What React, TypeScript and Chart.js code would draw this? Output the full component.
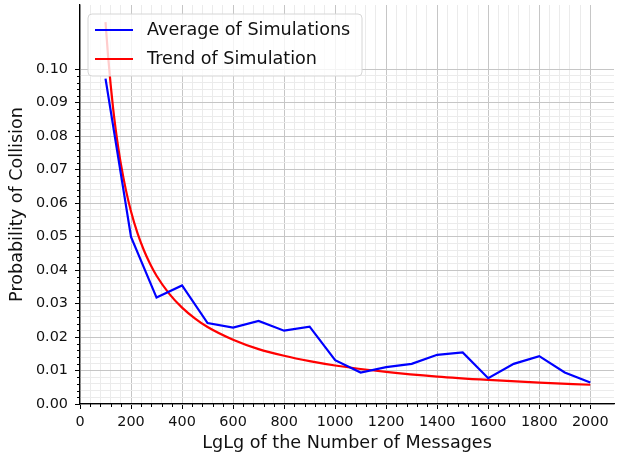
import React, { useEffect, useRef } from "react";
import { Chart, registerables } from "chart.js";

Chart.register(...registerables);

const simX = [100, 200, 300, 400, 500, 600, 700, 800, 900, 1000, 1100, 1200, 1300, 1400, 1500, 1600, 1700, 1800, 1900, 2000];
const simY = [0.0972, 0.0499, 0.0318, 0.0354, 0.0242, 0.0228, 0.0248, 0.0219, 0.0231, 0.0131, 0.0094, 0.011, 0.012, 0.0147, 0.0154, 0.0077, 0.012, 0.0143, 0.0094, 0.0064];

const trendX = [100, 110, 120, 130, 140, 150, 160, 180, 200, 225, 250, 275, 300, 350, 400, 450, 500, 600, 700, 800, 900, 1000, 1200, 1400, 1600, 1800, 2000];
const trendY = [0.1141, 0.1040, 0.0955, 0.0882, 0.0820, 0.0766, 0.0718, 0.0639, 0.0575, 0.0511, 0.046, 0.0418, 0.0383, 0.0329, 0.0288, 0.0256, 0.023, 0.0192, 0.0164, 0.0144, 0.0128, 0.0115, 0.0096, 0.0082, 0.0072, 0.0064, 0.00575];

const xMajorStep = 200;
const xMinorStep = 40;
const xTickMax = 2000;
const yMinorStep = 0.002;
const yMinorPerMajor = 5;
const yTickCount = 50; // 0 .. 0.10

const seriesLabels = ["Average of Simulations", "Trend of Simulation"];
const seriesColors = ["#0000ff", "#ff0000"];
const xTitle = "LgLg of the Number of Messages";
const yTitle = "Probability of Collision";

const FONT = "'DejaVu Sans', sans-serif";
const TICK_SIZE = 14.4;
const LABEL_SIZE = 17.6;

export default function App() {
  const ref = useRef<HTMLCanvasElement | null>(null);

  useEffect(() => {
    if (!ref.current) return;

    const customDraw = {
      id: "customDraw",
      afterDatasetsDraw(chart: any) {
        const ctx = chart.ctx;
        const xs = chart.scales.x;
        const ys = chart.scales.y;
        const area = chart.chartArea;
        ctx.save();
        // minor tick marks
        ctx.strokeStyle = "#000";
        ctx.lineWidth = 1;
        for (let i = 0; i * xMinorStep <= xTickMax; i++) {
          const v = i * xMinorStep;
          if (v % xMajorStep === 0) continue;
          const px = Math.round(xs.getPixelForValue(v)) + 0.5;
          ctx.beginPath();
          ctx.moveTo(px, area.bottom);
          ctx.lineTo(px, area.bottom + 3);
          ctx.stroke();
        }
        for (let i = 0; i <= yTickCount; i++) {
          if (i % yMinorPerMajor === 0) continue;
          const py = Math.round(ys.getPixelForValue(i * yMinorStep)) + 0.5;
          ctx.beginPath();
          ctx.moveTo(area.left, py);
          ctx.lineTo(area.left - 3, py);
          ctx.stroke();
        }
        // axis titles
        ctx.fillStyle = "#111";
        ctx.font = `${LABEL_SIZE}px ${FONT}`;
        ctx.textAlign = "center";
        ctx.textBaseline = "middle";
        ctx.fillText(xTitle, (area.left + area.right) / 2, 443);
        ctx.save();
        ctx.translate(17, (area.top + area.bottom) / 2);
        ctx.rotate(-Math.PI / 2);
        ctx.fillText(yTitle, 0, 0);
        ctx.restore();

        // legend
        const lx = 88, ly = 14, lw = 274, lh = 62, r = 4;
        ctx.beginPath();
        ctx.moveTo(lx + r, ly);
        ctx.lineTo(lx + lw - r, ly);
        ctx.quadraticCurveTo(lx + lw, ly, lx + lw, ly + r);
        ctx.lineTo(lx + lw, ly + lh - r);
        ctx.quadraticCurveTo(lx + lw, ly + lh, lx + lw - r, ly + lh);
        ctx.lineTo(lx + r, ly + lh);
        ctx.quadraticCurveTo(lx, ly + lh, lx, ly + lh - r);
        ctx.lineTo(lx, ly + r);
        ctx.quadraticCurveTo(lx, ly, lx + r, ly);
        ctx.closePath();
        ctx.fillStyle = "rgba(255,255,255,0.8)";
        ctx.fill();
        ctx.strokeStyle = "#d6d6d6";
        ctx.lineWidth = 1;
        ctx.stroke();
        ctx.textAlign = "left";
        ctx.font = `${LABEL_SIZE}px ${FONT}`;
        seriesLabels.forEach((lab, i) => {
          const yy = 30 + i * 29;
          ctx.strokeStyle = seriesColors[i];
          ctx.lineWidth = 2;
          ctx.beginPath();
          ctx.moveTo(95, yy);
          ctx.lineTo(133, yy);
          ctx.stroke();
          ctx.fillStyle = "#111";
          ctx.fillText(lab, 147, yy);
        });
        ctx.restore();
      },
    };

    const chart = new Chart(ref.current, {
      type: "line",
      data: {
        datasets: [
          {
            label: seriesLabels[0],
            data: simX.map((x, i) => ({ x, y: simY[i] })),
            borderColor: seriesColors[0],
            borderWidth: 2.2,
            pointRadius: 0,
            tension: 0,
            fill: false,
          },
          {
            label: seriesLabels[1],
            data: trendX.map((x, i) => ({ x, y: trendY[i] })),
            borderColor: seriesColors[1],
            borderWidth: 2.2,
            pointRadius: 0,
            cubicInterpolationMode: "monotone",
            fill: false,
          },
        ],
      },
      options: {
        responsive: false,
        animation: false,
        devicePixelRatio: 1,
        layout: { padding: { top: 5, right: 5, left: 0, bottom: 0 } },
        plugins: { legend: { display: false }, tooltip: { enabled: false } },
        scales: {
          x: {
            type: "linear",
            min: 0,
            max: 2093,
            afterBuildTicks: (scale: any) => {
              const t = [];
              for (let i = 0; i * xMinorStep <= xTickMax; i++) t.push({ value: i * xMinorStep });
              scale.ticks = t;
            },
            afterFit: (scale: any) => {
              scale.height = 56;
              scale.paddingLeft = 0;
              scale.paddingRight = 0;
            },
            ticks: {
              autoSkip: false,
              maxRotation: 0,
              padding: 5,
              color: "#111",
              font: { family: FONT, size: TICK_SIZE },
              callback: (v: any) => (Math.round(v) % xMajorStep === 0 ? String(Math.round(v)) : ""),
            },
            grid: {
              color: (c: any) => (Math.round(c.tick.value) % xMajorStep === 0 ? "#c6c6c6" : "#ebebeb"),
              tickColor: (c: any) => (Math.round(c.tick.value) % xMajorStep === 0 ? "#000" : "rgba(0,0,0,0)"),
              tickLength: 5,
              lineWidth: 1,
            },
            border: { color: "#000", width: 1.3 },
          },
          y: {
            type: "linear",
            min: 0,
            max: 0.1192,
            afterBuildTicks: (scale: any) => {
              const t = [];
              for (let i = 0; i <= yTickCount; i++) t.push({ value: i * yMinorStep });
              scale.ticks = t;
            },
            afterFit: (scale: any) => {
              scale.width = 80;
              scale.paddingTop = 0;
              scale.paddingBottom = 0;
            },
            ticks: {
              autoSkip: false,
              padding: 7,
              color: "#111",
              font: { family: FONT, size: TICK_SIZE },
              callback: (v: any, i: number) => (i % yMinorPerMajor === 0 ? (i * yMinorStep).toFixed(2) : ""),
            },
            grid: {
              color: (c: any) => (c.index % yMinorPerMajor === 0 ? "#c6c6c6" : "#ebebeb"),
              tickColor: (c: any) => (c.index % yMinorPerMajor === 0 ? "#000" : "rgba(0,0,0,0)"),
              tickLength: 5,
              lineWidth: 1,
            },
            border: { color: "#000", width: 1.3 },
          },
        },
      },
      plugins: [customDraw],
    } as any);

    return () => chart.destroy();
  }, []);

  return (
    <div style={{ position: "absolute", left: 0, top: 0, width: 619, height: 460, background: "#fff" }}>
      <canvas ref={ref} width={619} height={460} style={{ width: 619, height: 460 }} />
    </div>
  );
}
